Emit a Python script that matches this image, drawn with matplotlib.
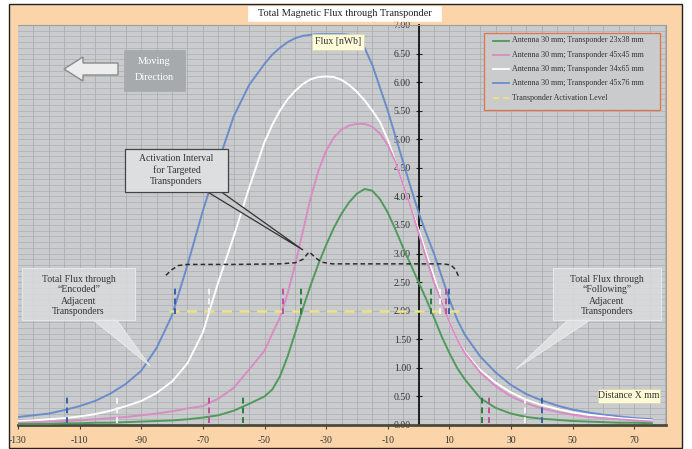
import matplotlib
matplotlib.use("Agg")
import matplotlib.pyplot as plt
from matplotlib.patches import Rectangle, Polygon

# distance along travel (mm) shared by all four curves
X = [-130, -125, -120, -115, -110, -105, -100, -95, -90, -85, -80, -75, -70,
     -65, -60, -55, -50, -47.5, -45, -42.5, -40, -37.5, -35, -32.5, -30,
     -27.5, -25, -22.5, -20, -17.5, -15, -12.5, -10, -7.5, -5, -2.5, 0, 2.5,
     5, 7.5, 10, 12.5, 15, 20, 25, 30, 35, 40, 45, 50, 55, 60, 65, 70, 76]

# flux (nWb) for each transponder size
FLUX_45x76 = [0.14, 0.17, 0.20, 0.26, 0.33, 0.42, 0.55, 0.72, 0.95, 1.35, 1.92,
              2.80, 3.75, 4.60, 5.40, 5.95, 6.32, 6.48, 6.60, 6.70, 6.77, 6.81,
              6.83, 6.84, 6.84, 6.84, 6.84, 6.83, 6.78, 6.60, 6.30, 5.90, 5.50,
              5.05, 4.60, 4.15, 3.72, 3.35, 3.00, 2.60, 2.20, 1.85, 1.58, 1.20,
              0.92, 0.70, 0.54, 0.43, 0.34, 0.27, 0.22, 0.18, 0.15, 0.12, 0.10]
FLUX_34x65 = [0.07, 0.08, 0.10, 0.12, 0.15, 0.19, 0.25, 0.33, 0.42, 0.56, 0.76,
              1.08, 1.62, 2.50, 3.30, 4.15, 4.95, 5.25, 5.50, 5.70, 5.85, 5.97,
              6.05, 6.09, 6.10, 6.09, 6.04, 5.95, 5.83, 5.68, 5.50, 5.30, 5.00,
              4.60, 4.20, 3.80, 3.42, 3.00, 2.60, 2.15, 1.80, 1.50, 1.28, 0.96,
              0.74, 0.57, 0.44, 0.35, 0.28, 0.22, 0.18, 0.15, 0.12, 0.10, 0.08]
FLUX_45x45 = [0.04, 0.05, 0.06, 0.07, 0.08, 0.10, 0.12, 0.14, 0.17, 0.20, 0.24,
              0.29, 0.33, 0.46, 0.65, 0.97, 1.30, 1.60, 1.88, 2.30, 2.82, 3.40,
              3.98, 4.45, 4.80, 5.03, 5.17, 5.24, 5.27, 5.27, 5.22, 5.10, 4.90,
              4.60, 4.20, 3.80, 3.36, 2.92, 2.50, 2.15, 1.80, 1.50, 1.26, 0.92,
              0.68, 0.50, 0.38, 0.29, 0.23, 0.18, 0.14, 0.12, 0.10, 0.08, 0.06]
FLUX_23x38 = [0.02, 0.02, 0.02, 0.03, 0.03, 0.04, 0.04, 0.05, 0.06, 0.07, 0.08,
              0.10, 0.13, 0.17, 0.25, 0.37, 0.50, 0.62, 0.85, 1.20, 1.62, 2.05,
              2.45, 2.82, 3.15, 3.45, 3.70, 3.90, 4.05, 4.13, 4.10, 3.95, 3.72,
              3.42, 3.10, 2.80, 2.50, 2.20, 1.88, 1.55, 1.26, 1.00, 0.80, 0.47,
              0.30, 0.20, 0.14, 0.11, 0.09, 0.07, 0.06, 0.05, 0.04, 0.04, 0.03]

LABELS = ["Antenna 30 mm; Transponder 23x38 mm",
          "Antenna 30 mm; Transponder 45x45 mm",
          "Antenna 30 mm; Transponder 34x65 mm",
          "Antenna 30 mm; Transponder 45x76 mm"]
COLORS = ["#4f9a5c", "#d98cc4", "#ffffff", "#6b8ccb"]
MARK_COLORS = ["#2f7a40", "#c0509f", "#f4f4f4", "#3b5ea8"]
SERIES = [FLUX_23x38, FLUX_45x45, FLUX_34x65, FLUX_45x76]

# activation crossings (x at level 2.0) and adjacent-transponder positions
ACT_LEFT = [-38, -44, -68, -79]
ACT_RIGHT = [4, 9, 7, 10]
ADJ_LEFT = [-57, -68, -98, -114]
ADJ_RIGHT = [20.5, 23, 34.5, 40]

ACT_LEVEL = 2.0
LEVEL_X = [-81, 13]

# envelope of the activation interval (black dashed)
ENV_X = [-82, -80, -78, -75, -60, -45, -40, -37.5, -35.5, -33.5, -31.5, -28,
         0, 8, 10.5, 12, 13]
ENV_Y = [2.62, 2.72, 2.79, 2.81, 2.81, 2.82, 2.84, 2.9, 3.03, 2.93, 2.85, 2.82,
         2.82, 2.82, 2.8, 2.72, 2.6]

X_TICKS = list(range(-130, 71, 20))
Y_TICKS = [0, 0.5, 1, 1.5, 2, 2.5, 3, 3.5, 4, 4.5, 5, 5.5, 6, 6.5, 7]

W, H = 692, 449
PEACH = "#fbd5a9"
PLOT_BG = "#c9cbcd"
GRID = "#abafb3"
TXT = "#333333"
SERIF = ["Liberation Serif", "DejaVu Serif"]


def fx(px):
    return px / W


def fy(py):
    return 1 - py / H


fig = plt.figure(figsize=(W / 100, H / 100), dpi=100, facecolor="white")
plt.rcParams["font.family"] = SERIF

# outer peach frame
fig.add_artist(Rectangle((fx(9), fy(448)), fx(682) - fx(9), fy(4) - fy(448),
                         transform=fig.transFigure, facecolor=PEACH,
                         edgecolor="#222222", lw=1.0, zorder=-5))

ax = fig.add_axes([fx(18), fy(425), fx(666) - fx(18), fy(25) - fy(425)])
ax.set_facecolor(PLOT_BG)
ax.set_xlim(-130, 80.3)
ax.set_ylim(0, 7)

# grid: every 5 mm / every 0.1 nWb
for gx in range(-125, 81, 5):
    ax.axvline(gx, color=GRID, lw=0.6, zorder=0)
for i in range(1, 70):
    ax.axhline(i / 10, color=GRID, lw=0.5, zorder=0)

for s in ["top", "right"]:
    ax.spines[s].set_color("#9a9ea2")
    ax.spines[s].set_linewidth(0.8)
ax.spines["left"].set_position(("data", 0))
ax.spines["left"].set_color("#111111")
ax.spines["left"].set_linewidth(1.3)
ax.spines["bottom"].set_color("#4a4a3a")
ax.spines["bottom"].set_linewidth(2.0)

ax.set_xticks(X_TICKS)
ax.set_xticklabels([str(t) for t in X_TICKS])
ax.set_yticks(Y_TICKS)
ax.set_yticklabels([f"{t:.2f}" for t in Y_TICKS])
ax.tick_params(axis="x", direction="out", length=3, width=0.8, color="#444444",
               pad=5, labelsize=7, labelcolor=TXT)
ax.tick_params(axis="y", direction="inout", length=5, width=0.8,
               color="#222222", pad=3, labelsize=7, labelcolor=TXT)

# curves, back to front
for ys, c in zip(SERIES[::-1], COLORS[::-1]):
    ax.plot(X, ys, color=c, lw=1.4, zorder=3, solid_capstyle="butt")

# activation level and interval envelope
ax.plot(LEVEL_X, [ACT_LEVEL, ACT_LEVEL], color="#ece184", lw=1.8,
        dashes=(4, 3), zorder=4)
ax.plot(ENV_X, ENV_Y, color="#2e2e2e", lw=1.1, dashes=(3, 2), zorder=4)

# short dashed markers
for mc, a, b, l, r in zip(MARK_COLORS, ACT_LEFT, ACT_RIGHT, ADJ_LEFT,
                          ADJ_RIGHT):
    for xm in (a, b):
        ax.plot([xm, xm], [1.95, 2.45], color=mc, lw=1.4, dashes=(3, 2),
                zorder=5)
    for xm in (l, r):
        ax.plot([xm, xm], [0.03, 0.55], color=mc, lw=1.4, dashes=(3, 2),
                zorder=5)


def fbox(x0, y0, x1, y1, fc, ec, lw=0.8, alpha=1.0, z=6):
    fig.add_artist(Rectangle((fx(x0), fy(y1)), fx(x1) - fx(x0),
                             fy(y0) - fy(y1), transform=fig.transFigure,
                             facecolor=fc, edgecolor=ec, lw=lw, alpha=alpha,
                             zorder=z))


def fpoly(pts, fc, ec, lw=0.8, alpha=1.0, z=6):
    fig.add_artist(Polygon([(fx(a), fy(b)) for a, b in pts], closed=True,
                           transform=fig.transFigure, facecolor=fc,
                           edgecolor=ec, lw=lw, alpha=alpha, zorder=z))


def ftext(px, py, s, size=7, color=TXT, **kw):
    fig.text(fx(px), fy(py), s, ha="center", va="center", fontsize=size,
             color=color, zorder=8, **kw)


# title
fbox(248, 6, 441, 21, "white", "white", lw=0.5)
ftext(344.5, 13.5, "Total Magnetic Flux through Transponder", size=7.5,
      color="#222222")

# axis captions
fbox(312, 34, 364, 50, "#fdfbd8", "#d8d6b0", lw=0.5)
ftext(338, 42, "Flux [nWb]", size=7)
fbox(598, 389, 660, 403, "#fdfbd8", "#d8d6b0", lw=0.5)
ftext(629, 396, "Distance X mm", size=7)

# moving direction arrow + box
fpoly([(64, 69), (83, 57), (83, 63), (118, 63), (118, 75), (83, 75), (83, 81)],
      "#ededed", "#8a8a8a", lw=1.0)
fbox(124, 50, 185, 91, "#a7aaad", "#a7aaad", lw=0.5)
ftext(154.5, 62, "Moving", size=7.5, color="white")
ftext(154.5, 78, "Direction", size=7.5, color="white")

# legend
fbox(484, 33, 660, 110, PLOT_BG, "#e0734c", lw=0.9)
for i, (lab, c) in enumerate(zip(LABELS, COLORS)):
    yy = 40.5 + i * 14.3
    fig.add_artist(plt.Line2D([fx(493), fx(509)], [fy(yy), fy(yy)],
                              transform=fig.transFigure, color=c, lw=1.3,
                              zorder=7))
    fig.text(fx(512), fy(yy), lab, ha="left", va="center", fontsize=5.8,
             color=TXT, zorder=8)
yy = 40.5 + 4 * 14.3
fig.add_artist(plt.Line2D([fx(493), fx(509)], [fy(yy), fy(yy)],
                          transform=fig.transFigure, color="#ece184", lw=1.5,
                          dashes=(3, 2), zorder=7))
fig.text(fx(512), fy(yy), "Transponder Activation Level", ha="left",
         va="center", fontsize=5.8, color=TXT, zorder=8)

# callout: activation interval
fpoly([(206, 191), (220, 191), (303, 250)], "#c6c8ca", "#333333", lw=0.9)
fbox(125, 149, 228, 192, "#dcdee0", "#444444", lw=0.9)
ftext(176.5, 159, "Activation Interval", size=7)
ftext(176.5, 170, "for Targeted", size=7)
ftext(176.5, 181, "Transponders", size=7)

# callout: encoded adjacent
fpoly([(92, 319), (116, 319), (150, 366)], "#e4e6e8", "#f2f2f2", lw=0.6,
      alpha=0.8)
fbox(22, 268, 135, 320, "#d9dbdd", "#ececec", lw=0.8, alpha=0.85)
ftext(78.5, 279, "Total Flux through", size=7)
ftext(78.5, 290, "\u201cEncoded\u201d", size=7)
ftext(78.5, 301, "Adjacent", size=7)
ftext(78.5, 312, "Transponders", size=7)

# callout: following adjacent
fpoly([(569, 319), (592, 319), (516, 369)], "#e4e6e8", "#f2f2f2", lw=0.6,
      alpha=0.8)
fbox(553, 268, 661, 320, "#d9dbdd", "#ececec", lw=0.8, alpha=0.85)
ftext(607, 279, "Total Flux through", size=7)
ftext(607, 290, "\u201cFollowing\u201d", size=7)
ftext(607, 301, "Adjacent", size=7)
ftext(607, 312, "Transponders", size=7)

fig.savefig("out.png", dpi=100, facecolor="white")
